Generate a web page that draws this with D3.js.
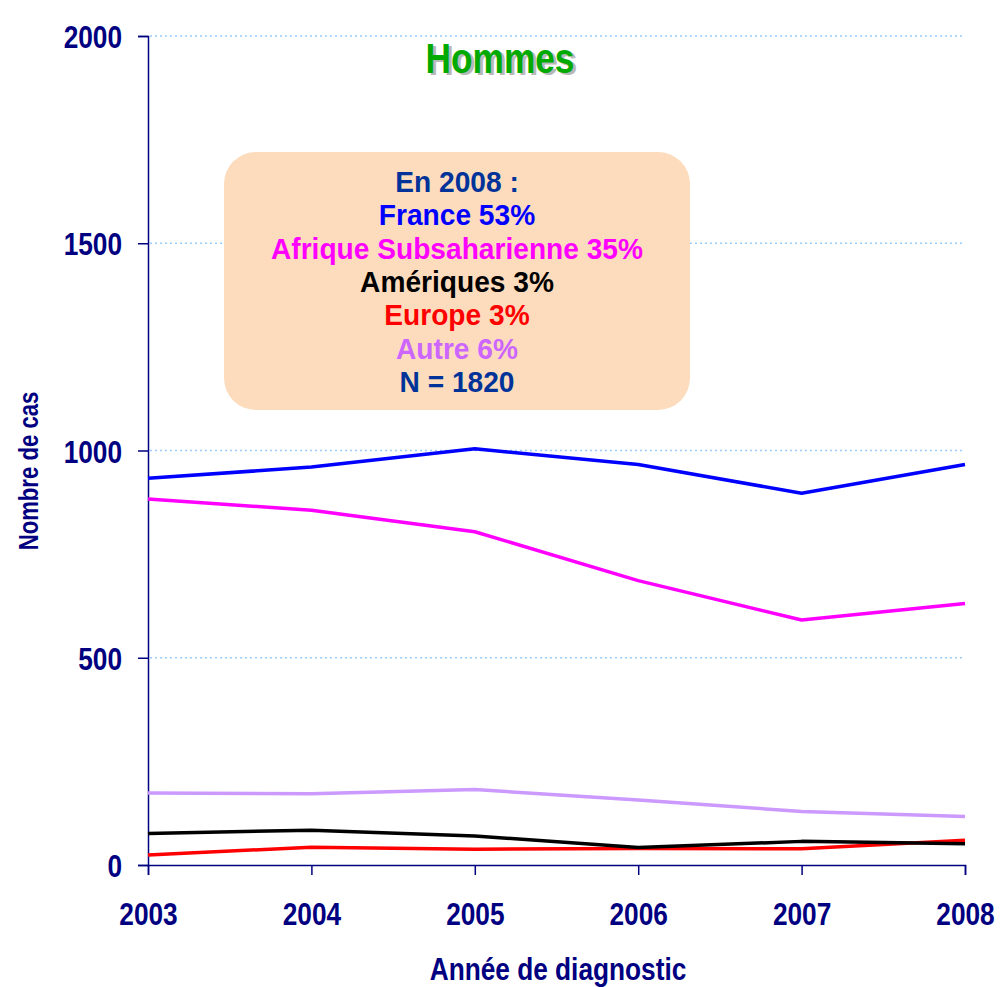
<!DOCTYPE html>
<html>
<head>
<meta charset="utf-8">
<script src="https://cdn.jsdelivr.net/npm/d3@7"></script>
<style>
  body { margin: 0; background: #fff; }
  text { font-family: "Liberation Sans", Arial, sans-serif; }
</style>
</head>
<body>
<script>
// Data
const years = [2003, 2004, 2005, 2006, 2007, 2008];
const france = [933, 960, 1004, 966, 897, 966];
const afrique = [883, 856, 804, 686, 591, 631];
const autre = [174, 172, 182, 157, 129, 117];
const ameriques = [76, 84, 70, 42, 57, 51];
const europe = [24, 43, 38, 40, 39, 60];
const yTicks = [0, 500, 1000, 1500, 2000];

const seriesList = [
  { name: "Autre", values: autre, color: "#cc99ff" },
  { name: "Europe", values: europe, color: "#ff0000" },
  { name: "Amériques", values: ameriques, color: "#000000" },
  { name: "Afrique Subsaharienne", values: afrique, color: "#ff00ff" },
  { name: "France", values: france, color: "#0000ff" }
];

const boxLines = [
  { text: "En 2008 :", color: "#003399" },
  { text: "France 53%", color: "#0000ff" },
  { text: "Afrique Subsaharienne 35%", color: "#ff00ff" },
  { text: "Amériques 3%", color: "#000000" },
  { text: "Europe 3%", color: "#ff0000" },
  { text: "Autre 6%", color: "#cc66ff" },
  { text: "N = 1820", color: "#003399" }
];

const navy = "#000080";
const margin = { top: 36, left: 148 },
      width = 817,
      height = 829;

// squeeze text horizontally to mimic a narrow font
function condense(sel, k) {
  sel.each(function() {
    const w = this.getComputedTextLength();
    d3.select(this).attr("textLength", w * k).attr("lengthAdjust", "spacingAndGlyphs");
  });
}

const svg = d3.select("body")
  .append("svg")
  .attr("width", 1000)
  .attr("height", 987);

const g = svg.append("g")
  .attr("transform", `translate(${margin.left},${margin.top})`);

const x = d3.scaleLinear().domain([2003, 2008]).range([0, width]);
const y = d3.scaleLinear().domain([0, 2000]).range([height, 0]);

// Gridlines
g.selectAll(".grid")
  .data(yTicks.filter(d => d > 0))
  .enter()
  .append("line")
  .attr("x1", 2)
  .attr("x2", width)
  .attr("y1", d => y(d))
  .attr("y2", d => y(d))
  .attr("stroke", "#99ccff")
  .attr("stroke-width", 1.5)
  .attr("stroke-dasharray", "2,3");

// Y axis
const yAxis = g.append("g")
  .call(d3.axisLeft(y).tickValues(yTicks).tickFormat(d3.format("d")).tickSize(10).tickPadding(16));
yAxis.select(".domain").attr("stroke", navy).attr("stroke-width", 1.5);
yAxis.selectAll(".tick line").attr("stroke", navy).attr("stroke-width", 1.5);
yAxis.selectAll("text")
  .attr("fill", navy)
  .attr("dy", "0.36em")
  .style("font-size", "32px")
  .style("font-weight", "bold")
  .style("font-family", "'Liberation Sans', sans-serif")
  .call(condense, 0.82);

// X axis
const xAxis = g.append("g")
  .attr("transform", `translate(0,${height})`)
  .call(d3.axisBottom(x).tickValues(years).tickFormat(d3.format("d")).tickSize(10).tickPadding(27));
xAxis.select(".domain").attr("stroke", navy).attr("stroke-width", 1.5);
xAxis.selectAll(".tick line").attr("stroke", navy).attr("stroke-width", 1.5);
xAxis.selectAll("text")
  .attr("fill", navy)
  .style("font-size", "32px")
  .style("font-weight", "bold")
  .style("font-family", "'Liberation Sans', sans-serif")
  .call(condense, 0.82);

// Lines
const line = d3.line()
  .x((d, i) => x(years[i]))
  .y(d => y(d));

g.selectAll(".series")
  .data(seriesList)
  .enter()
  .append("path")
  .attr("d", d => line(d.values))
  .attr("fill", "none")
  .attr("stroke", d => d.color)
  .attr("stroke-width", 3.5)
  .attr("stroke-linejoin", "round");

// Axis titles
svg.append("text")
  .attr("x", 558)
  .attr("y", 980)
  .attr("text-anchor", "middle")
  .attr("fill", navy)
  .style("font-size", "32px")
  .style("font-weight", "bold")
  .text("Année de diagnostic")
  .call(condense, 0.82);

svg.append("text")
  .attr("transform", "translate(38,471) rotate(-90)")
  .attr("text-anchor", "middle")
  .attr("fill", navy)
  .style("font-size", "27px")
  .style("font-weight", "bold")
  .text("Nombre de cas")
  .call(condense, 0.82);

// Title with shadow
svg.append("text")
  .attr("x", 503)
  .attr("y", 75)
  .attr("text-anchor", "middle")
  .attr("fill", "#b8b8b8")
  .style("font-size", "42px")
  .style("font-weight", "bold")
  .text("Hommes")
  .call(condense, 0.84);
svg.append("text")
  .attr("x", 500)
  .attr("y", 73)
  .attr("text-anchor", "middle")
  .attr("fill", "#00aa00")
  .style("font-size", "42px")
  .style("font-weight", "bold")
  .text("Hommes")
  .call(condense, 0.84);

// Annotation box
svg.append("rect")
  .attr("x", 224)
  .attr("y", 152)
  .attr("width", 466)
  .attr("height", 258)
  .attr("rx", 32)
  .attr("fill", "#fcdcbc");

svg.selectAll(".boxline")
  .data(boxLines)
  .enter()
  .append("text")
  .attr("x", 457)
  .attr("y", (d, i) => 192 + i * 33.3)
  .attr("text-anchor", "middle")
  .attr("fill", d => d.color)
  .style("font-size", "29px")
  .style("font-weight", "bold")
  .text(d => d.text)
  .call(condense, 0.97);
</script>
</body>
</html>
